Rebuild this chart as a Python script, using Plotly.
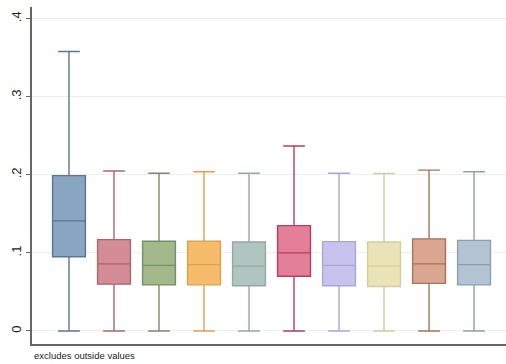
import plotly.graph_objects as go

groups = list(range(10))
lower = [0, 0, 0, 0, 0, 0, 0, 0, 0, 0]
q1 = [0.095, 0.060, 0.059, 0.059, 0.058, 0.070, 0.058, 0.057, 0.061, 0.059]
median = [0.141, 0.086, 0.084, 0.085, 0.083, 0.100, 0.084, 0.083, 0.086, 0.085]
q3 = [0.199, 0.117, 0.115, 0.115, 0.114, 0.135, 0.1145, 0.114, 0.118, 0.116]
upper = [0.358, 0.205, 0.202, 0.204, 0.202, 0.237, 0.202, 0.2017, 0.206, 0.204]

fills = ["#88A6C2", "#D48C96", "#A3B88B", "#F6BC6C", "#AEC6BF",
         "#E47F99", "#C7C3EE", "#EAE3B6", "#DBA690", "#B3C3D4"]
lines = ["#5A7690", "#A8666F", "#768E66", "#DDA24E", "#95A8A2",
         "#B83E60", "#AAA6D6", "#D3CBA2", "#A6735D", "#8E9EAF"]

tick_vals = [0, 0.1, 0.2, 0.3, 0.4]
tick_text = ["0", ".1", ".2", ".3", ".4"]

fig = go.Figure()
for i in groups:
    fig.add_trace(go.Box(
        x=[i], q1=[q1[i]], median=[median[i]], q3=[q3[i]],
        lowerfence=[lower[i]], upperfence=[upper[i]],
        fillcolor=fills[i], line=dict(color=lines[i], width=1.4),
        width=0.73, whiskerwidth=0.66, boxpoints=False,
        showlegend=False, hoverinfo="skip",
    ))

fig.update_layout(
    width=506, height=364,
    margin=dict(l=32, r=0, t=7, b=20),
    paper_bgcolor="white", plot_bgcolor="white",
    font=dict(family="Liberation Sans, Arial, sans-serif", color="#222"),
    xaxis=dict(range=[-0.822, 9.71], showticklabels=False, showgrid=False,
               zeroline=False, showline=True, linecolor="#666", linewidth=1.5,
               ticks=""),
    yaxis=dict(range=[-0.0167, 0.415], tickvals=tick_vals, ticktext=tick_text,
               tickangle=-90, tickfont=dict(size=13, color="#222"),
               showgrid=True, gridcolor="#EEEEEE", gridwidth=1,
               zeroline=False, showline=True, linecolor="#666", linewidth=1.5,
               ticks="outside", ticklen=4, tickcolor="#666"),
    annotations=[dict(text="excludes outside values", xref="paper", yref="paper",
                      x=0.0, y=-0.012, xanchor="left", yanchor="top",
                      showarrow=False, font=dict(size=9.5, color="#222"))],
)

fig.write_html("out.html")
